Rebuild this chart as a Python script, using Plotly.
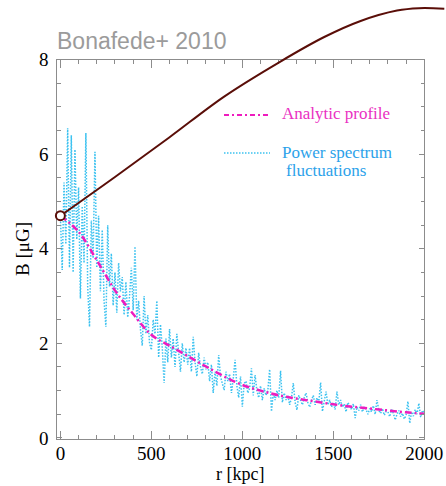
import plotly.graph_objects as go

# Radial grid of the fluctuating field (kpc) and the field values (muG)
r_fluct = list(range(0, 2001, 10))
B_fluct = [
    4.70, 3.55, 5.40, 4.10, 6.55, 3.60, 6.40, 3.50, 6.10, 4.20,
    5.30, 2.95, 4.90, 3.70, 6.45, 3.20, 2.35, 4.60, 3.80, 6.05,
    3.60, 4.70, 3.10, 4.40, 2.90, 2.35, 4.50, 3.20, 3.90, 2.80,
    3.50, 2.65, 3.70, 3.10, 3.40, 2.60, 3.30, 2.55, 3.00, 3.60,
    2.70, 4.05, 2.50, 2.90, 2.30, 1.95, 3.00, 2.20, 2.60, 2.00,
    1.86, 2.50, 2.20, 2.90, 1.70, 2.40, 1.90, 1.16, 2.10, 1.60,
    2.30, 1.70, 2.10, 1.50, 2.20, 1.80, 1.40, 2.00, 1.60, 1.90,
    1.55, 1.90, 1.40, 2.14, 1.60, 1.30, 1.80, 1.50, 1.35, 1.70,
    1.45, 1.60, 1.20, 1.55, 0.95, 1.40, 1.10, 1.75, 1.30, 1.15,
    1.01, 1.40, 1.20, 1.35, 0.95, 1.25, 1.65, 1.10, 0.85, 1.30,
    0.66, 1.15, 1.20, 0.95, 1.05, 1.47, 0.90, 1.33, 1.00, 0.85,
    1.10, 0.80, 1.05, 0.90, 1.00, 1.45, 0.56, 0.95, 0.80, 1.00,
    0.85, 1.42, 0.75, 0.95, 0.80, 0.90, 0.70, 0.85, 1.16, 0.75,
    0.59, 0.90, 0.80, 0.70, 0.85, 0.95, 0.75, 0.65, 0.80, 0.90,
    0.70, 0.85, 0.75, 1.17, 0.56, 0.80, 0.98, 0.70, 0.80, 0.65,
    0.75, 0.60, 0.98, 0.70, 0.80, 0.65, 0.72, 0.55, 0.75, 0.68,
    0.60, 0.72, 0.42, 0.65, 0.58, 0.70, 0.55, 0.66, 0.60, 0.50,
    0.62, 0.55, 0.68, 0.50, 0.80, 0.58, 0.52, 0.62, 0.48, 0.56,
    0.55, 0.45, 0.60, 0.52, 0.38, 0.50, 0.58, 0.45, 0.52, 0.40,
    0.48, 0.77, 0.31, 0.55, 0.46, 0.60, 0.50, 0.73, 0.44, 0.58,
    0.52,
]

# Analytic radial profile
r_prof = [0, 100, 200, 300, 400, 500, 600, 700, 800, 900, 1000,
          1100, 1200, 1300, 1400, 1500, 1600, 1700, 1800, 1900, 2000]
B_prof = [4.70, 4.36, 3.76, 3.12, 2.62, 2.18, 1.95, 1.73, 1.51, 1.30, 1.12,
          1.00, 0.90, 0.83, 0.77, 0.71, 0.66, 0.62, 0.58, 0.54, 0.51]

# Connector curve leaving the central value toward the upper right
r_track = [0, 300, 600, 900, 1200, 1450, 1650, 1850, 1970, 2110]
B_track = [4.70, 5.52, 6.36, 7.22, 7.94, 8.48, 8.82, 9.04, 9.09, 9.08]

x_ticks = [0, 500, 1000, 1500, 2000]
y_ticks = [0, 2, 4, 6, 8]

W, H = 446, 486
x_range = [-17, 2000]
y_range = [-0.03, 8.0]
x_dom = [57.3 / W, 424.3 / W]
y_dom = [1 - 439.3 / H, 1 - 59.7 / H]

# Full-figure axes with the same scale, so the connector can run past the frame
sx = (x_range[1] - x_range[0]) / (x_dom[1] - x_dom[0])
sy = (y_range[1] - y_range[0]) / (y_dom[1] - y_dom[0])
x2_range = [x_range[0] - x_dom[0] * sx, x_range[1] + (1 - x_dom[1]) * sx]
y2_range = [y_range[0] - y_dom[0] * sy, y_range[1] + (1 - y_dom[1]) * sy]

BLUE = "#3cc2f0"
MAGENTA = "#ee1cbe"
BROWN = "#5a0e08"
AXC = "#8c8c8c"
SERIF = "Liberation Serif, Times New Roman, serif"

fig = go.Figure()
fig.add_trace(go.Scatter(
    x=r_fluct, y=B_fluct, mode="lines",
    line=dict(color=BLUE, width=1.5, dash="1.5px,1.5px"),
    xaxis="x", yaxis="y", hoverinfo="skip"))
fig.add_trace(go.Scatter(
    x=r_prof, y=B_prof, mode="lines", line_shape="spline",
    line=dict(color=MAGENTA, width=2.5, dash="7px,3px,2px,3px"),
    xaxis="x", yaxis="y", hoverinfo="skip"))
fig.add_trace(go.Scatter(
    x=r_track, y=B_track, mode="lines", line_shape="spline",
    line=dict(color=BROWN, width=2),
    xaxis="x2", yaxis="y2", hoverinfo="skip"))
fig.add_trace(go.Scatter(
    x=r_track[:1], y=B_track[:1], mode="markers",
    marker=dict(symbol="circle", size=9, color="white",
                line=dict(color=BROWN, width=2)),
    xaxis="x2", yaxis="y2", hoverinfo="skip"))

axis_common = dict(
    showline=True, linecolor=AXC, linewidth=1, mirror="ticks",
    ticks="inside", tickcolor=AXC, tickwidth=1,
    showgrid=False, zeroline=False, automargin=False,
    tickfont=dict(family=SERIF, size=19, color="black"),
)

fig.update_layout(
    width=W, height=H, autosize=False,
    margin=dict(l=0, r=0, t=0, b=0, pad=0, autoexpand=False),
    paper_bgcolor="white", plot_bgcolor="rgba(0,0,0,0)",
    showlegend=False,
    xaxis=dict(
        domain=x_dom, range=x_range, anchor="y",
        tickvals=x_ticks, ticktext=[str(v) for v in x_ticks], ticklen=8,
        minor=dict(dtick=100, tick0=0, ticks="inside", ticklen=4.5,
                   tickcolor=AXC),
        ticklabelstandoff=-3,
        **axis_common),
    yaxis=dict(
        domain=y_dom, range=y_range, anchor="x",
        tickvals=y_ticks, ticktext=[str(v) for v in y_ticks], ticklen=5,
        minor=dict(dtick=0.5, tick0=0, ticks="inside", ticklen=3.5,
                   tickcolor=AXC),
        ticklabelstandoff=4,
        **axis_common),
    xaxis2=dict(domain=[0, 1], range=x2_range, anchor="y2", visible=False,
                automargin=False),
    yaxis2=dict(domain=[0, 1], range=y2_range, anchor="x2", visible=False,
                automargin=False),
)

# Axis titles
title_font = dict(family=SERIF, size=18, color="black")
fig.add_annotation(text="r [kpc]", xref="paper", yref="paper",
                   x=240.5 / W, y=1 - 474 / H, xanchor="center",
                   yanchor="middle", showarrow=False, font=title_font)
fig.add_annotation(text="B [μG]", xref="paper", yref="paper",
                   x=22 / W, y=1 - 249 / H, xanchor="center",
                   yanchor="middle", showarrow=False, textangle=-90,
                   font=dict(family=SERIF, size=19, color="black"))

# Legend drawn as samples plus coloured labels
fig.add_shape(type="line", xref="paper", yref="paper",
              x0=224 / W, x1=270 / W, y0=1 - 115 / H, y1=1 - 115 / H,
              line=dict(color=MAGENTA, width=2, dash="5px,3px,2px,3px"))
fig.add_shape(type="line", xref="paper", yref="paper",
              x0=224 / W, x1=270 / W, y0=1 - 153 / H, y1=1 - 153 / H,
              line=dict(color=BLUE, width=1.5, dash="1.5px,1.5px"))

legend_font = dict(family=SERIF, size=17)
fig.add_annotation(text="Analytic profile", xref="paper", yref="paper",
                   x=280 / W, y=1 - 114 / H, xanchor="left", yanchor="middle",
                   showarrow=False, font=dict(color="#ea30c2", **legend_font))
fig.add_annotation(text="Power spectrum", xref="paper", yref="paper",
                   x=280 / W, y=1 - 152 / H, xanchor="left", yanchor="middle",
                   showarrow=False, font=dict(color="#2ca2ea", **legend_font))
fig.add_annotation(text="fluctuations", xref="paper", yref="paper",
                   x=284 / W, y=1 - 170 / H, xanchor="left", yanchor="middle",
                   showarrow=False, font=dict(color="#2ca2ea", **legend_font))

fig.add_annotation(text="Bonafede+ 2010", xref="paper", yref="paper",
                   x=55 / W, y=1 - 41 / H, xanchor="left", yanchor="middle",
                   showarrow=False,
                   font=dict(family="Liberation Sans, Arial, sans-serif",
                             size=23, color="#9b9b9b"))

fig.write_html("out.html")
